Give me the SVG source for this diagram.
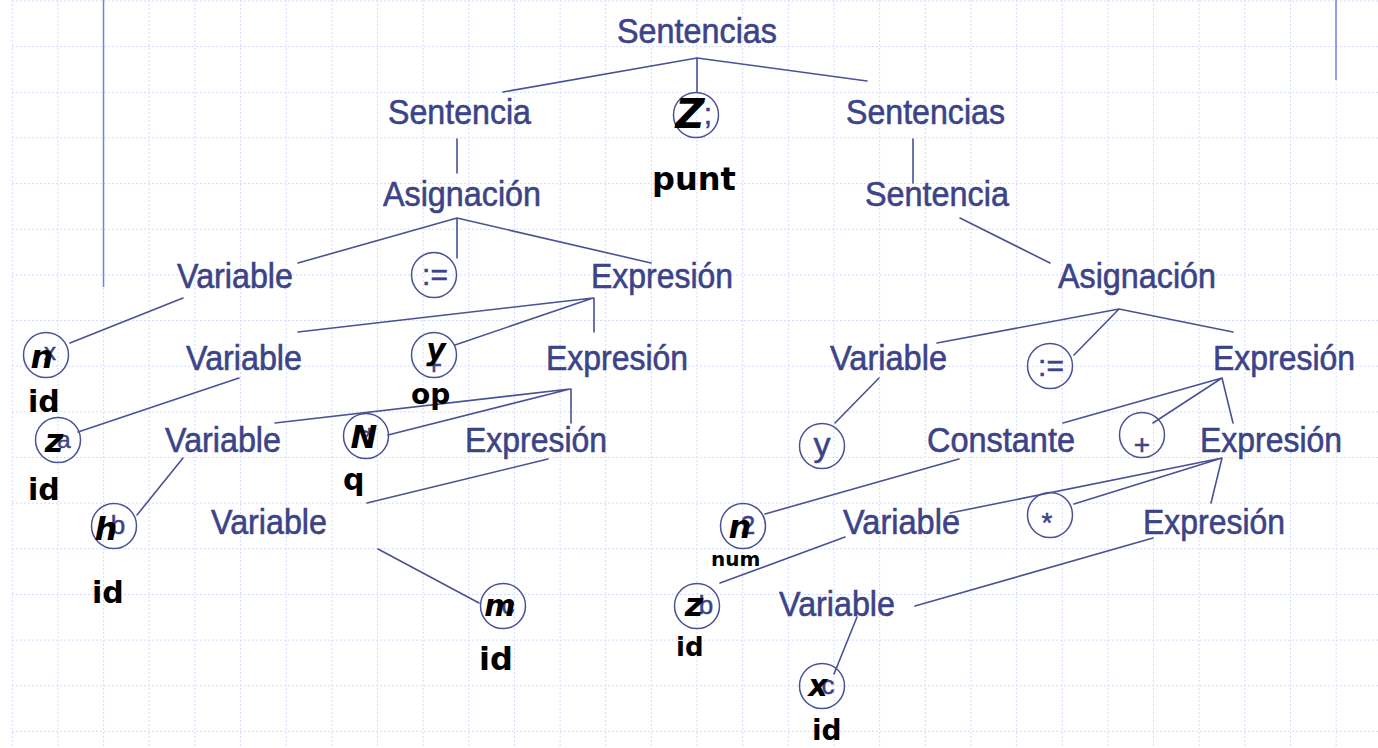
<svg xmlns="http://www.w3.org/2000/svg" width="1378" height="748" viewBox="0 0 1378 748">
<style>
.grid{stroke:#d3dbff;stroke-width:1;stroke-dasharray:2 2;fill:none}
.rule{stroke:#6f82e8;stroke-width:1.5}
.lbl{font-family:"Liberation Sans",Arial,sans-serif;font-size:35px;fill:#3c4387;stroke:#3c4387;stroke-width:0.6}
.sym{font-family:"Liberation Sans",Arial,sans-serif;fill:#3c4387;text-anchor:middle;stroke:#3c4387;stroke-width:0.5}
.ring{fill:none;stroke:#4a5196;stroke-width:1.5}
.edge{stroke:#4a5196;stroke-width:1.6;fill:none;stroke-linecap:round}
.hw{font-family:"DejaVu Sans",sans-serif;font-weight:bold;fill:#000}
.scr{font-family:"DejaVu Sans",sans-serif;font-weight:bold;font-style:italic;fill:#000;text-anchor:middle}
</style>
<rect width="1378" height="748" fill="#fff"/>
<g id="grid">
<path class="grid" d="M12.3 0V748M57.95 0V748M103.6 0V748M149.25 0V748M194.9 0V748M240.55 0V748M286.2 0V748M331.85 0V748M377.5 0V748M423.15 0V748M468.8 0V748M514.45 0V748M560.1 0V748M605.75 0V748M651.4 0V748M697.05 0V748M742.7 0V748M788.35 0V748M834 0V748M879.65 0V748M925.3 0V748M970.95 0V748M1016.6 0V748M1062.25 0V748M1107.9 0V748M1153.55 0V748M1199.2 0V748M1244.85 0V748M1290.5 0V748M1336.15 0V748"/>
<path class="grid" d="M12 1H1378M12 46.65H1378M12 92.3H1378M12 137.95H1378M12 183.6H1378M12 229.25H1378M12 274.9H1378M12 320.55H1378M12 366.2H1378M12 411.85H1378M12 457.5H1378M12 503.15H1378M12 548.8H1378M12 594.45H1378M12 640.1H1378M12 685.75H1378M12 731.4H1378"/>
<line class="rule" x1="103.5" y1="0" x2="103.5" y2="287"/>
<line class="rule" x1="1336" y1="0" x2="1336" y2="80"/>
</g>
<g id="connectors">
<path class="edge" d="M697 58L503 92M697 58V92M697 58L867 81"/>
<path class="edge" d="M457 139V173M913 139V183"/>
<path class="edge" d="M457 218L298 263M457 218V258M457 218L651 263"/>
<path class="edge" d="M960 218L1050 263"/>
<path class="edge" d="M183 298L70 343M239 378L78 432M183 458L137 515"/>
<path class="edge" d="M593 298L298 332M593 298L455 345M594 298V332"/>
<path class="edge" d="M570 389L275 423M570 389L388 435M571 389V423"/>
<path class="edge" d="M548 459L367 503M378 549L479 603"/>
<path class="edge" d="M1119 309L937 343M1119 309L1074 355M1119 309L1233 332"/>
<path class="edge" d="M879 378L835 423"/>
<path class="edge" d="M1222 378L1063 423M1222 378L1153 423M1222 378L1233 423"/>
<path class="edge" d="M1222 458L950 513M1222 458L1074 504M1222 458L1211 503"/>
<path class="edge" d="M959 459L765 514M845 537L720 583M1153 538L915 606M857 617L834 674"/>
</g>
<g id="n-sentencias"><text class="lbl" x="617" y="43" textLength="160" lengthAdjust="spacingAndGlyphs">Sentencias</text></g>
<g id="n-sentencia-l"><text class="lbl" x="388" y="124" textLength="143" lengthAdjust="spacingAndGlyphs">Sentencia</text></g>
<g id="n-sentencias-r"><text class="lbl" x="846" y="124" textLength="159" lengthAdjust="spacingAndGlyphs">Sentencias</text></g>
<g id="n-punt"><circle class="ring" cx="696" cy="115" r="22.5"/><text class="sym" x="708" y="124" font-size="30">;</text><text class="scr" x="690" y="128" font-size="40">Z</text><text class="hw" x="652" y="190" font-size="32">punt</text></g>
<g id="n-asig-l"><text class="lbl" x="383" y="206" textLength="158" lengthAdjust="spacingAndGlyphs">Asignación</text></g>
<g id="n-sentencia-r"><text class="lbl" x="865" y="206" textLength="144" lengthAdjust="spacingAndGlyphs">Sentencia</text></g>
<g id="n-var-1"><text class="lbl" x="177" y="288" textLength="116" lengthAdjust="spacingAndGlyphs">Variable</text></g>
<g id="n-asg-op-l"><circle class="ring" cx="434" cy="275" r="22.5"/><text class="sym" x="435" y="285" font-size="30">:=</text></g>
<g id="n-expr-1"><text class="lbl" x="591" y="288" textLength="142" lengthAdjust="spacingAndGlyphs">Expresión</text></g>
<g id="n-asig-r"><text class="lbl" x="1058" y="288" textLength="158" lengthAdjust="spacingAndGlyphs">Asignación</text></g>
<g id="n-x"><circle class="ring" cx="46" cy="355" r="22.5"/><text class="sym" x="50" y="360" font-size="24">x</text><text class="scr" x="42" y="368" font-size="32">n</text><text class="hw" x="28" y="412" font-size="30">id</text></g>
<g id="n-var-2"><text class="lbl" x="186" y="370" textLength="116" lengthAdjust="spacingAndGlyphs">Variable</text></g>
<g id="n-plus-l"><circle class="ring" cx="434" cy="355" r="22.5"/><text class="sym" x="434" y="374" font-size="28">+</text><text class="scr" x="436" y="360" font-size="30">y</text><text class="hw" x="411" y="404" font-size="28">op</text></g>
<g id="n-expr-2"><text class="lbl" x="546" y="370" textLength="142" lengthAdjust="spacingAndGlyphs">Expresión</text></g>
<g id="n-var-r1"><text class="lbl" x="830" y="370" textLength="117" lengthAdjust="spacingAndGlyphs">Variable</text></g>
<g id="n-asg-op-r"><circle class="ring" cx="1050" cy="366" r="22.5"/><text class="sym" x="1051" y="376" font-size="30">:=</text></g>
<g id="n-expr-r1"><text class="lbl" x="1213" y="370" textLength="142" lengthAdjust="spacingAndGlyphs">Expresión</text></g>
<g id="n-a"><circle class="ring" cx="58" cy="440" r="22.5"/><text class="sym" x="64" y="448" font-size="24">a</text><text class="scr" x="54" y="452" font-size="32">z</text><text class="hw" x="28" y="500" font-size="30">id</text></g>
<g id="n-var-3"><text class="lbl" x="165" y="452" textLength="116" lengthAdjust="spacingAndGlyphs">Variable</text></g>
<g id="n-times-l"><circle class="ring" cx="366" cy="436" r="22.5"/><text class="sym" x="369" y="446" font-size="26">*</text><text class="scr" x="364" y="448" font-size="32">N</text><text class="hw" x="343" y="490" font-size="30">q</text></g>
<g id="n-expr-3"><text class="lbl" x="465" y="452" textLength="142" lengthAdjust="spacingAndGlyphs">Expresión</text></g>
<g id="n-y"><circle class="ring" cx="822" cy="446" r="22.5"/><text class="sym" x="822" y="456" font-size="34">y</text></g>
<g id="n-const"><text class="lbl" x="927" y="452" textLength="148" lengthAdjust="spacingAndGlyphs">Constante</text></g>
<g id="n-plus-r"><circle class="ring" cx="1142" cy="435" r="22.5"/><text class="sym" x="1142" y="454" font-size="28">+</text></g>
<g id="n-expr-r2"><text class="lbl" x="1200" y="452" textLength="142" lengthAdjust="spacingAndGlyphs">Expresión</text></g>
<g id="n-b"><circle class="ring" cx="114" cy="526" r="22.5"/><text class="sym" x="118" y="534" font-size="26">b</text><text class="scr" x="106" y="540" font-size="32">h</text><text class="hw" x="92" y="603" font-size="30">id</text></g>
<g id="n-var-4"><text class="lbl" x="211" y="534" textLength="116" lengthAdjust="spacingAndGlyphs">Variable</text></g>
<g id="n-2"><circle class="ring" cx="743" cy="526" r="22.5"/><text class="sym" x="748" y="534" font-size="26">2</text><text class="scr" x="740" y="538" font-size="32">n</text><text class="hw" x="711" y="566" font-size="20">num</text></g>
<g id="n-var-r2"><text class="lbl" x="843" y="534" textLength="117" lengthAdjust="spacingAndGlyphs">Variable</text></g>
<g id="n-times-r"><circle class="ring" cx="1050" cy="515" r="22.5"/><text class="sym" x="1047" y="532" font-size="28">*</text></g>
<g id="n-expr-r3"><text class="lbl" x="1143" y="534" textLength="142" lengthAdjust="spacingAndGlyphs">Expresión</text></g>
<g id="n-c"><circle class="ring" cx="503" cy="606" r="22.5"/><text class="sym" x="508" y="614" font-size="26">c</text><text class="scr" x="500" y="616" font-size="30">m</text><text class="hw" x="479" y="670" font-size="32">id</text></g>
<g id="n-b-r"><circle class="ring" cx="697" cy="606" r="22.5"/><text class="sym" x="706" y="614" font-size="26">b</text><text class="scr" x="694" y="616" font-size="32">z</text><text class="hw" x="676" y="656" font-size="26">id</text></g>
<g id="n-var-r3"><text class="lbl" x="779" y="616" textLength="116" lengthAdjust="spacingAndGlyphs">Variable</text></g>
<g id="n-c-r"><circle class="ring" cx="822" cy="686" r="22.5"/><text class="sym" x="828" y="694" font-size="26">c</text><text class="scr" x="818" y="696" font-size="30">x</text><text class="hw" x="812" y="740" font-size="28">id</text></g>
</svg>
